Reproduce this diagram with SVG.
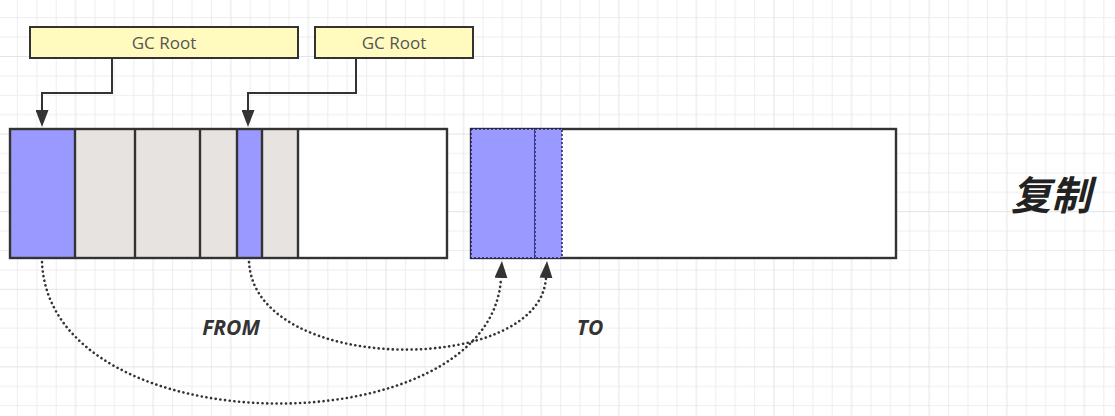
<svg xmlns="http://www.w3.org/2000/svg" width="1115" height="416" viewBox="0 0 1115 416">
  <defs>
    <pattern id="grid" patternUnits="userSpaceOnUse" x="16.9" y="17.2" width="77.6" height="77.6">
      <rect width="77.6" height="77.6" fill="#ffffff"/>
      <g stroke="#eeeeee" stroke-width="1">
        <line x1="0.5" y1="0" x2="0.5" y2="77.6"/>
        <line x1="19.9" y1="0" x2="19.9" y2="77.6"/>
        <line x1="39.3" y1="0" x2="39.3" y2="77.6"/>
        <line x1="0" y1="0.5" x2="77.6" y2="0.5"/>
        <line x1="0" y1="19.9" x2="77.6" y2="19.9"/>
        <line x1="0" y1="58.7" x2="77.6" y2="58.7"/>
      </g>
      <g stroke="#e4e4e4" stroke-width="1">
        <line x1="58.7" y1="0" x2="58.7" y2="77.6"/>
        <line x1="0" y1="39.3" x2="77.6" y2="39.3"/>
      </g>
    </pattern>
    <marker id="arrow" markerUnits="userSpaceOnUse" markerWidth="17" markerHeight="13" refX="0" refY="6.5" orient="auto" viewBox="0 0 17 13">
      <path d="M0,0 L17,6.5 L0,13 z" fill="#333333"/>
    </marker>
    <style>
      .root { fill: #fffbbf; stroke: #333333; stroke-width: 2; }
      .rootText { font-family: "Open Sans", "Liberation Sans", sans-serif; font-size: 17px; fill: #555555; text-anchor: middle; }
      .conn { fill: none; stroke: #333333; stroke-width: 2; }
      .dots { fill: none; stroke: #333333; stroke-width: 2.6; stroke-linecap: round; stroke-dasharray: 0.1 4.6; }
      .live { fill: #9999ff; }
      .dead { fill: #e6e3e0; }
      .frame { fill: none; stroke: #333333; stroke-width: 2.4; }
      .div { stroke: #333333; stroke-width: 2.4; }
      .copied { fill: #9999ff; stroke: #1f1f55; stroke-width: 1.5; stroke-dasharray: 2 2; }
      .label { font-family: "Open Sans", "Liberation Sans", sans-serif; font-weight: bold; font-style: italic; font-size: 21px; fill: #333333; text-anchor: middle; }
      .title { font-family: "Noto Sans CJK SC", "Noto Sans", sans-serif; font-weight: bold; font-style: italic; font-size: 40px; fill: #222222; text-anchor: middle; }
    </style>
  </defs>

  <rect x="0" y="0" width="1115" height="416" fill="url(#grid)"/>

  <g id="gcroot1">
    <rect class="root" x="30" y="27" width="268" height="31"/>
    <text class="rootText" x="164" y="49">GC Root</text>
  </g>
  <g id="gcroot2">
    <rect class="root" x="315" y="27" width="158" height="31"/>
    <text class="rootText" x="394" y="49">GC Root</text>
  </g>

  <g id="from-space">
    <rect class="live" x="10" y="129" width="65" height="129"/>
    <rect class="dead" x="75" y="129" width="162" height="129"/>
    <rect class="live" x="237" y="129" width="25" height="129"/>
    <rect class="dead" x="262" y="129" width="36" height="129"/>
    <rect x="298" y="129" width="149" height="129" fill="#ffffff"/>
    <line class="div" x1="75" y1="129" x2="75" y2="258"/>
    <line class="div" x1="135" y1="129" x2="135" y2="258"/>
    <line class="div" x1="200" y1="129" x2="200" y2="258"/>
    <line class="div" x1="237" y1="129" x2="237" y2="258"/>
    <line class="div" x1="262" y1="129" x2="262" y2="258"/>
    <line class="div" x1="298" y1="129" x2="298" y2="258"/>
    <rect class="frame" x="10" y="129" width="437" height="129"/>
    <text class="label" x="231" y="335">FROM</text>
  </g>

  <g id="to-space">
    <rect x="471" y="129" width="425" height="129" fill="#ffffff"/>
    <rect class="frame" x="471" y="129" width="425" height="129"/>
    <rect class="copied" x="471" y="129" width="64" height="129"/>
    <rect class="copied" x="535" y="129" width="27" height="129"/>
    <text class="label" x="590" y="335">TO</text>
  </g>

  <g id="title">
    <text class="title" x="1051" y="210">复制</text>
  </g>

  <g id="connectors">
    <path class="conn" d="M112,58 V93 H42 V110" marker-end="url(#arrow)"/>
    <path class="conn" d="M356,58 V93 H248 V110" marker-end="url(#arrow)"/>
    <path class="dots" d="M42,262 C50,448 492,448 501,278" marker-end="url(#arrow)"/>
    <path class="dots" d="M249,262 C255,376 540,376 546,278" marker-end="url(#arrow)"/>
  </g>
</svg>
